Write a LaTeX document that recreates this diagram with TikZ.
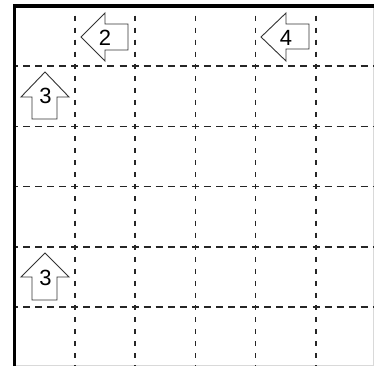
\documentclass[tikz,border=0pt]{standalone}
\usepackage{fontspec}
\setmainfont{Liberation Sans}
\begin{document}
\begin{tikzpicture}[x=1pt,y=-1pt,
  hgrid/.style={line width=1.5pt,dash pattern=on 7pt off 5.06pt,dash phase=3.5pt,black!85},
  vgrid/.style={line width=1.5pt,dash pattern=on 5pt off 7.06pt,dash phase=2.5pt,black!85},
  border/.style={line width=3.6pt,black},
  arrowshape/.style={draw=black!80,line width=0.9pt,fill=white,line join=miter},
  num/.style={anchor=base,inner sep=0pt,font=\fontsize{22pt}{24pt}\selectfont}]
\useasboundingbox (0,0) rectangle (374,366);
\fill[white] (0,0) rectangle (374,366);
% faint outer edge
\draw[black!15,line width=0.8pt] (373.5,6) -- (373.5,365.5) -- (14,365.5);
% grid
\foreach \y in {66.2,126.4,186.6,246.8,307} \draw[hgrid] (14.5,\y) -- (374,\y);
\foreach \x in {74.8,135.1,195.4,255.7,316} \draw[vgrid] (\x,6) -- (\x,366);
% borders
\draw[border] (14.5,366) -- (14.5,6) -- (374,6);
% arrows
\draw[arrowshape] (81,37) -- (105,13) -- (105,24) -- (128,24) -- (128,50) -- (105,50) -- (105,61) -- cycle;
\node[num] (n2) at (105,46) {2};
\draw[arrowshape] (261,37) -- (286,13) -- (286,24) -- (309,24) -- (309,49) -- (286,49) -- (286,61) -- cycle;
\node[num] (n4) at (286,45.5) {4};
\draw[arrowshape] (45,72) -- (69,97) -- (57,97) -- (57,119) -- (32,119) -- (32,97) -- (21,97) -- cycle;
\node[num] (n3a) at (45.5,104) {3};
\draw[arrowshape] (45,253) -- (69,277) -- (57,277) -- (57,300) -- (32,300) -- (32,277) -- (21,277) -- cycle;
\node[num] (n3b) at (45.5,285) {3};
\end{tikzpicture}
\end{document}
